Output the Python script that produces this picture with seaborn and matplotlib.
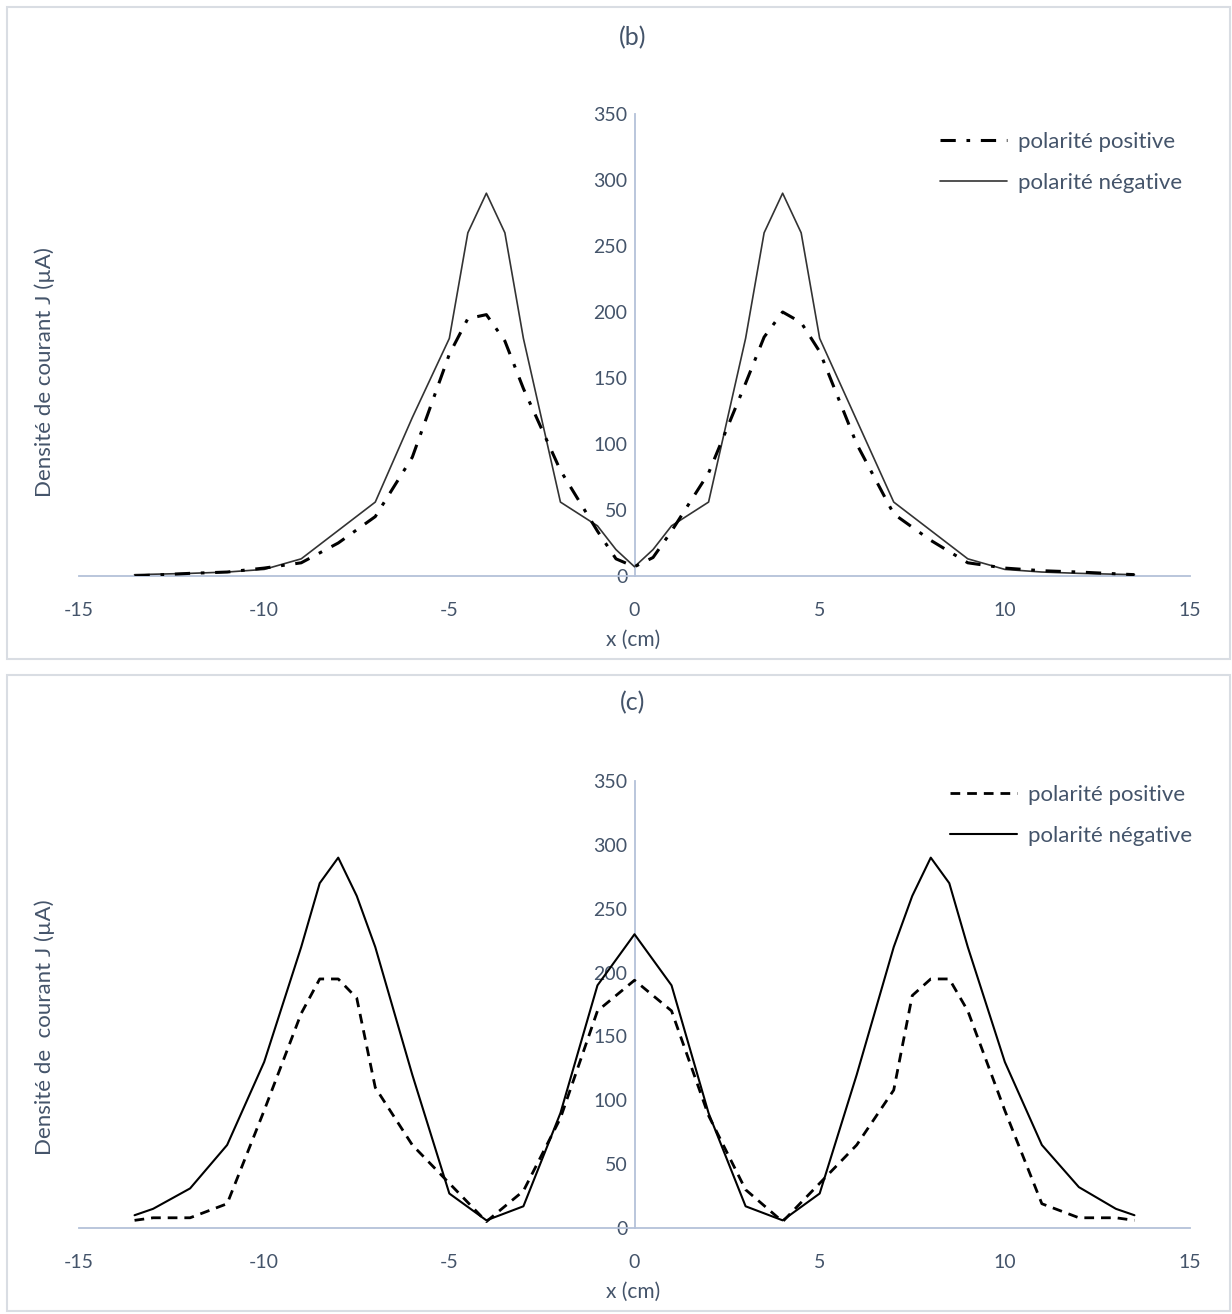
import numpy as np
import pandas as pd
import seaborn as sns
import matplotlib
matplotlib.use("Agg")
import matplotlib.pyplot as plt
from matplotlib.patches import Rectangle
from matplotlib.lines import Line2D

# ---------------- data: panel (b) ----------------
b_x_neg = [-13.5, -12, -11, -10, -9, -7, -6, -5, -4.5, -4, -3.5, -3, -2, -1, -0.5, 0,
           0.5, 1, 2, 3, 3.5, 4, 4.5, 5, 6, 7, 9, 10, 11, 12, 13.5]
b_y_neg = [1, 2, 3, 5, 13, 56, 120, 180, 260, 290, 260, 180, 56, 38, 20, 7,
           20, 38, 56, 180, 260, 290, 260, 180, 118, 56, 13, 5, 3, 2, 1]
b_x_pos = [-13.5, -12, -11, -10, -9, -8, -7, -6, -5, -4.5, -4, -3.5, -3, -2, -1, -0.5, 0,
           0.5, 1, 2, 3, 3.5, 4, 4.5, 5, 6, 7, 8, 9, 10, 11, 12, 13.5]
b_y_pos = [0, 2, 3, 6, 10, 25, 45, 90, 168, 195, 198, 178, 142, 80, 34, 13, 7,
           14, 34, 78, 146, 181, 200, 192, 170, 100, 47, 27, 10, 6, 4, 3, 1]

# ---------------- data: panel (c) ----------------
c_x_neg = [-13.5, -13, -12, -11, -10, -9, -8.5, -8, -7.5, -7, -6, -5, -4, -3, -2, -1, 0,
           1, 2, 3, 4, 5, 6, 7, 7.5, 8, 8.5, 9, 10, 11, 12, 13, 13.5]
c_y_neg = [10, 15, 31, 65, 130, 220, 270, 290, 260, 220, 120, 27, 6, 17, 90, 190, 230,
           190, 90, 17, 6, 27, 120, 220, 260, 290, 270, 220, 130, 65, 32, 15, 10]
c_x_pos = [-13.5, -13, -12, -11, -10, -9, -8.5, -8, -7.5, -7, -6, -5, -4, -3, -2, -1, 0,
           1, 2, 3, 4, 5, 6, 7, 7.5, 8, 8.5, 9, 10, 11, 12, 13, 13.5]
c_y_pos = [6, 8, 8, 19, 92, 168, 195, 195, 180, 110, 65, 35, 5, 29, 86, 170, 194,
           170, 88, 30, 5, 35, 65, 108, 182, 195, 195, 170, 92, 19, 8, 8, 6]

x_ticks = [-15, -10, -5, 0, 5, 10, 15]
y_ticks = [0, 50, 100, 150, 200, 250, 300, 350]
label_pos = "polarité positive"
label_neg = "polarité négative"

# ---------------- style ----------------
sns.set_style("white")
plt.rcParams['font.family'] = ['Lato', 'DejaVu Sans']
TXT = "#44546a"
AX = "#b4c1d9"

W, H = 1232, 1314
fig = plt.figure(figsize=(W / 100, H / 100), dpi=100)

def fx(px):
    return px / W

def fy(py):
    return 1 - py / H

# frames
for (x0, y0, x1, y1) in [(7, 7, 1230, 659), (7, 675, 1230, 1311)]:
    fig.patches.append(Rectangle((fx(x0), fy(y1)), fx(x1) - fx(x0), fy(y0) - fy(y1),
                                 transform=fig.transFigure, fill=False,
                                 edgecolor="#d9dde3", linewidth=1.5, zorder=0))


def make_panel(ax_rect, xn, yn, xp, yp, pos_style, pos_lw, neg_color, neg_lw,
               title, title_y, ylabel, ylabel_y, xlabel_y, leg_anchor):
    ax = fig.add_axes(ax_rect)
    df_neg = pd.DataFrame({"x": xn, "J": yn})
    df_pos = pd.DataFrame({"x": xp, "J": yp})
    sns.lineplot(data=df_neg, x="x", y="J", ax=ax, color=neg_color, lw=neg_lw,
                 sort=False, estimator=None, zorder=3)
    sns.lineplot(data=df_pos, x="x", y="J", ax=ax, color="black", lw=pos_lw,
                 sort=False, estimator=None, linestyle=pos_style, zorder=4)
    ax.set_xlim(-15, 15)
    ax.set_ylim(0, 350)
    ax.set_xticks(x_ticks)
    ax.set_yticks(y_ticks)
    ax.set_xticklabels([str(t) for t in x_ticks])
    ax.set_yticklabels([str(t) for t in y_ticks])
    for s in ["top", "right"]:
        ax.spines[s].set_visible(False)
    ax.spines["left"].set_position(("data", 0))
    ax.spines["bottom"].set_position(("data", 0))
    for s in ["left", "bottom"]:
        ax.spines[s].set_color(AX)
        ax.spines[s].set_linewidth(1.3)
    ax.tick_params(axis="both", length=0, labelsize=14, colors=TXT)
    ax.tick_params(axis="x", pad=19)
    ax.tick_params(axis="y", pad=5)
    ax.set_xlabel("")
    ax.set_ylabel("")
    ax.patch.set_alpha(0)
    fig.text(fx(633), fy(title_y), title, ha="center", va="center", fontsize=18, color=TXT)
    fig.text(fx(633), fy(xlabel_y), "x (cm)", ha="center", va="center", fontsize=15, color=TXT)
    fig.text(fx(45), fy(ylabel_y), ylabel, ha="center", va="center", rotation=90,
             fontsize=16, color=TXT)
    handles = [Line2D([], [], color="black", lw=pos_lw, linestyle=pos_style),
               Line2D([], [], color=neg_color, lw=neg_lw)]
    leg = ax.legend(handles, [label_pos, label_neg], loc="upper right",
                    bbox_to_anchor=(fx(leg_anchor[0]), fy(leg_anchor[1])),
                    bbox_transform=fig.transFigure, frameon=False, fontsize=16,
                    labelspacing=0.95, handlelength=3.0, handletextpad=0.5,
                    borderaxespad=0, borderpad=0)
    for t in leg.get_texts():
        t.set_color(TXT)
    return ax


# panel (b): axes from x=-15 at px 79 to 15 at px 1190; y 0 at 576, 350 at 114
make_panel([fx(79), fy(576), fx(1190) - fx(79), fy(114) - fy(576)],
           b_x_neg, b_y_neg, b_x_pos, b_y_pos,
           (0, (5, 3.5, 1.2, 3.5)), 2.2, "#333333", 1.2,
           "(b)", 38, "Densité de courant J (µA)", 372, 640, (1182, 132))

# panel (c): y 0 at 1228, 350 at 781
make_panel([fx(79), fy(1228), fx(1190) - fx(79), fy(781) - fy(1228)],
           c_x_neg, c_y_neg, c_x_pos, c_y_pos,
           (0, (3.5, 2.5)), 2.0, "black", 1.5,
           "(c)", 703, "Densité de  courant J (µA)", 1027, 1292, (1192, 785))

fig.savefig("out.png", dpi=100)
